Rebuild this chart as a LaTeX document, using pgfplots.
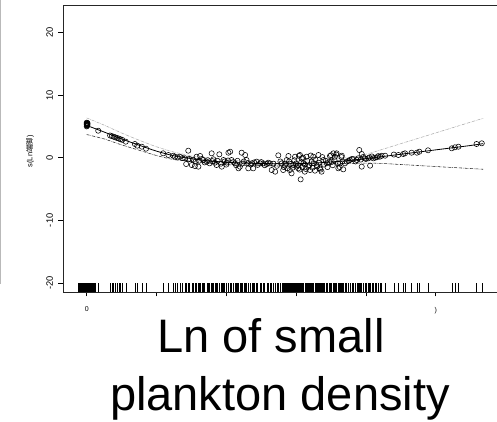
\documentclass[border=0pt]{standalone}
\usepackage{fontspec}
\setmainfont{Liberation Sans}
\newfontfamily\cjk{Noto Sans CJK SC}
\usepackage{pgfplots}
\pgfplotsset{compat=1.18}
\usepackage{pgfplotstable}

\pgfplotstableread{
x y
0.00 5.00
0.01 5.10
0.02 5.20
0.00 5.30
0.01 5.40
0.02 5.50
0.00 5.60
0.01 5.25
0.02 5.35
0.00 5.45
0.01 5.15
0.02 5.55
0.33 4.31
0.67 3.55
0.72 3.45
0.77 3.35
0.82 3.25
0.87 3.15
0.92 3.05
0.97 2.95
1.02 2.85
1.12 2.56
1.38 2.19
1.45 1.92
1.58 1.76
1.70 1.44
2.19 0.70
2.34 0.43
2.48 0.32
2.53 0.16
2.67 0.16
2.82 -0.10
2.91 -0.26
2.91 1.12
2.85 -1.01
3.01 -1.17
3.10 -1.33
3.20 -1.43
3.15 0.16
3.25 0.27
3.34 -0.37
3.44 -0.63
3.58 0.70
3.63 -0.26
3.72 -1.17
3.80 0.54
3.87 -1.43
3.92 -0.37
4.01 -0.79
4.06 0.80
4.11 0.96
4.15 -0.37
4.25 -0.90
4.35 -1.70
4.39 -1.43
4.44 0.80
4.54 0.43
4.58 -0.37
4.63 -1.70
4.73 -0.90
4.77 -1.70
4.87 -0.63
4.97 -0.90
5.06 -0.90
5.16 -1.01
5.25 -0.90
5.30 -1.97
5.40 -2.23
5.49 0.38
5.59 -0.90
5.63 -1.97
5.68 -1.27
5.73 -0.37
5.78 0.27
5.82 -1.97
5.87 -2.50
5.92 -1.17
5.97 0.16
6.02 -1.43
6.06 -1.70
6.11 0.43
6.13 -3.46
6.16 -0.10
6.21 -0.90
6.25 -2.23
6.30 0.16
6.35 -1.43
6.40 -1.97
6.45 -0.63
6.49 0.16
6.54 -2.07
6.59 -1.17
6.64 0.43
6.68 -1.70
6.73 -2.23
6.78 -0.37
6.88 -0.90
6.97 0.27
7.02 -0.63
7.07 0.70
7.11 0.16
7.16 0.70
7.21 -1.70
7.26 -0.90
7.31 0.32
7.35 -1.86
7.45 -0.63
7.54 -0.37
7.64 -0.26
7.74 -0.37
7.81 1.23
7.88 0.59
7.88 -1.43
7.97 -0.10
8.07 -0.10
8.12 -1.27
8.21 -0.10
8.31 0.06
8.40 0.16
8.55 0.32
2.60 0.05
2.75 -0.05
2.95 -0.20
3.05 -0.35
3.12 -0.60
3.22 -0.50
3.30 -0.20
3.38 -0.75
3.47 -0.40
3.52 -0.90
3.60 -0.55
3.67 -0.80
3.75 -0.50
3.85 -0.95
3.95 -0.60
4.00 -1.10
4.05 -0.45
4.20 -0.70
4.28 -1.20
4.32 -0.50
4.45 -0.95
4.50 -0.60
4.62 -0.85
4.70 -1.10
4.80 -0.75
4.90 -1.15
5.00 -0.70
5.10 -1.20
5.20 -0.80
5.35 -0.95
5.45 -1.30
5.55 -0.60
5.65 -1.50
5.70 -0.95
5.75 -1.70
5.80 -0.60
5.85 -1.00
5.90 -1.60
5.95 -0.40
6.00 -0.90
6.05 -1.20
6.08 0.30
6.10 -1.90
6.15 -0.70
6.18 -1.50
6.20 0.00
6.25 -1.10
6.28 -1.80
6.32 -0.50
6.38 -1.20
6.42 0.35
6.47 -1.60
6.50 -0.90
6.55 -0.30
6.60 -1.40
6.65 -0.80
6.70 -1.90
6.75 0.10
6.80 -1.10
6.85 -0.50
6.90 -1.50
6.95 -0.70
7.00 0.40
7.05 -1.20
7.10 -0.40
7.15 0.50
7.20 -0.90
7.25 -1.50
7.30 0.10
7.33 -0.60
7.40 -0.90
7.50 -0.50
7.60 -0.20
7.70 -0.60
7.78 -0.10
7.85 -0.30
7.92 0.10
8.00 -0.20
8.10 0.05
8.17 0.20
8.26 0.00
8.35 0.25
8.45 0.30
8.80 0.50
8.93 0.43
9.07 0.59
9.12 0.70
9.31 0.80
9.46 0.80
9.53 0.96
9.78 1.18
10.46 1.50
10.55 1.66
10.65 1.76
11.17 2.19
11.32 2.30
}\resid

\pgfplotstableread{
x f up lo
0.00 5.15 6.35 3.70
0.50 4.10 5.20 3.00
1.00 3.00 3.95 2.05
1.50 2.00 2.80 1.20
2.00 1.05 1.75 0.35
2.50 0.30 0.90 -0.30
3.00 -0.15 0.30 -0.60
3.50 -0.50 -0.10 -0.90
4.00 -0.72 -0.35 -1.10
4.50 -0.86 -0.50 -1.22
5.00 -0.93 -0.58 -1.30
5.50 -0.96 -0.60 -1.33
6.00 -0.95 -0.58 -1.33
6.50 -0.86 -0.48 -1.25
7.00 -0.68 -0.28 -1.08
7.50 -0.45 0.05 -0.92
8.00 -0.15 0.55 -0.85
8.50 0.20 1.38 -0.93
9.00 0.55 2.24 -1.09
9.50 0.90 3.10 -1.25
10.00 1.25 3.96 -1.41
10.50 1.60 4.82 -1.57
11.00 1.95 5.68 -1.73
11.36 2.25 6.30 -1.85
}\fit

\pgfplotstableread{
x r
-0.24 -20.76
-0.22 -20.76
-0.20 -20.76
-0.18 -20.76
-0.16 -20.76
-0.14 -20.76
-0.12 -20.76
-0.10 -20.76
-0.08 -20.76
-0.06 -20.76
-0.04 -20.76
-0.02 -20.76
0.00 -20.76
0.02 -20.76
0.04 -20.76
0.06 -20.76
0.08 -20.76
0.10 -20.76
0.12 -20.76
0.14 -20.76
0.16 -20.76
0.18 -20.76
0.20 -20.76
0.22 -20.76
0.24 -20.76
}\rugzero

\begin{document}
\begin{tikzpicture}
\path[use as bounding box, clip] (0,0) rectangle (497bp,422bp);
\fill[white] (0,0) rectangle (497bp,422bp);
\draw[gray!55, line width=0.8bp] (0.8bp,422bp) -- (0.8bp,138bp);
\begin{axis}[
  at={(63bp,130bp)}, anchor=south west, scale only axis,
  width=457bp, height=287bp,
  xmin=-0.679, xmax=12.415, ymin=-21.45, ymax=24.39,
  xtick={0,2,4,6,8,10}, xticklabels={0,,,,,)},
  ytick={-20,-10,0,10,20}, yticklabels={-20,-10,0,10,20},
  xtick pos=lower, ytick pos=left,
  tick align=outside, major tick length=4.5bp,
  tick style={black, line width=0.6bp},
  axis line style={black!85, line width=0.8bp},
  yticklabel style={rotate=90, anchor=south, font=\fontsize{9.3bp}{10bp}\selectfont},
  yticklabel shift=2bp,
  xticklabel style={font=\fontsize{7bp}{8bp}\selectfont},
  xticklabel shift=7bp,
  ylabel={s(Ln{\cjk 端脚})},
  ylabel style={at={(axis description cs:-0.072,0.49)}, anchor=center, font=\fontsize{7.5bp}{8bp}\selectfont},
  clip=true,
]
\addplot[gray!70, densely dashdotted, line width=0.5bp, smooth] table[x=x, y=up] {\fit};
\addplot[black!85, densely dashdotted, line width=0.55bp, smooth] table[x=x, y=lo] {\fit};
\addplot[black, line width=0.8bp, smooth] table[x=x, y=f] {\fit};
\addplot[only marks, mark=o, mark size=2.6bp, mark options={line width=0.55bp, black}] table[x=x, y=y] {\resid};
\addplot[only marks, mark=|, mark size=4.35bp, mark options={line width=0.5bp, black}] table[x=x, y expr=-20.76] {\resid};
\addplot[only marks, mark=|, mark size=4.35bp, mark options={line width=0.8bp, black}] table[x=x, y=r] {\rugzero};
\end{axis}
\node[anchor=base, inner sep=0pt, font=\fontsize{47bp}{50bp}\selectfont] at (271bp,69bp) {Ln of small};
\node[anchor=base, inner sep=0pt, font=\fontsize{47bp}{50bp}\selectfont] at (280bp,12bp) {plankton density};
\end{tikzpicture}
\end{document}
